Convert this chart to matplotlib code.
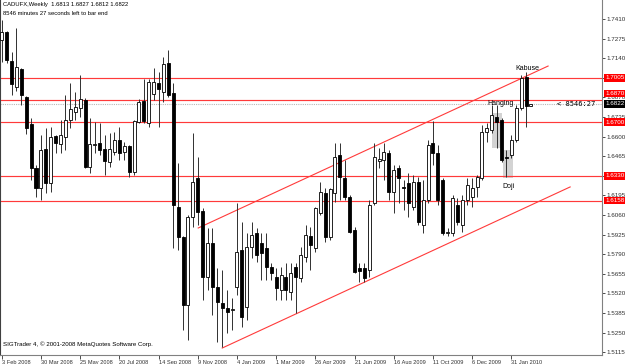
import matplotlib
matplotlib.use("Agg")
import matplotlib.pyplot as plt
from matplotlib.patches import Rectangle
from matplotlib.transforms import blended_transform_factory

plt.rcParams['font.family'] = ['Liberation Sans', 'DejaVu Sans']

# weekly OHLC, first bar = week of 3 Feb 2008
opens = [1.7265, 1.7321, 1.7121, 1.6942, 1.7066, 1.6873, 1.6687, 1.6383, 1.6246, 1.6514,
         1.6280, 1.6604, 1.6549, 1.6597, 1.6714, 1.6769, 1.6797, 1.6852, 1.6390, 1.6542,
         1.6556, 1.6514, 1.6425, 1.6494, 1.6576, 1.6494, 1.6535, 1.6356, 1.6700, 1.6845,
         1.6694, 1.6893, 1.6969, 1.6907, 1.7107, 1.6900, 1.6115, 1.5908, 1.5440, 1.6046,
         1.6315, 1.6087, 1.5632, 1.5867, 1.5564, 1.5453, 1.5419, 1.5405, 1.5564, 1.5818,
         1.5426, 1.5839, 1.5936, 1.5867, 1.5832, 1.5701, 1.5632, 1.5543, 1.5632, 1.5529,
         1.5701, 1.5626, 1.5770, 1.5915, 1.5832, 1.6073, 1.6211, 1.5908, 1.6211, 1.6473,
         1.6315, 1.6184, 1.5956, 1.5694, 1.5694, 1.5681, 1.6142, 1.6432, 1.6439, 1.6487,
         1.6218, 1.6383, 1.6253, 1.6280, 1.6115, 1.6287, 1.5991, 1.6163, 1.6556, 1.6487,
         1.6301, 1.5936, 1.5936, 1.6129, 1.5991, 1.6163, 1.6184, 1.6253, 1.6315, 1.6632,
         1.6645, 1.6735, 1.6714, 1.6459, 1.6473, 1.6576, 1.6797, 1.7010, 1.6813]
highs = [1.7403, 1.7327, 1.7183, 1.7348, 1.7072, 1.6880, 1.6728, 1.6404, 1.6611, 1.6659,
         1.6666, 1.6611, 1.6714, 1.6886, 1.6969, 1.6907, 1.7024, 1.6866, 1.6728, 1.6700,
         1.6694, 1.6611, 1.6625, 1.6632, 1.6666, 1.6563, 1.6542, 1.6714, 1.6859, 1.6997,
         1.6997, 1.7072, 1.7045, 1.7148, 1.7196, 1.6969, 1.6418, 1.5915, 1.6060, 1.6625,
         1.6459, 1.6108, 1.5970, 1.5970, 1.5694, 1.5681, 1.5543, 1.5488, 1.6142, 1.6011,
         1.5936, 1.6011, 1.5970, 1.5936, 1.5936, 1.5729, 1.5694, 1.5701, 1.5729, 1.5729,
         1.5729, 1.5839, 1.5991, 1.5977, 1.6115, 1.6287, 1.6246, 1.6246, 1.6556, 1.6556,
         1.6439, 1.6197, 1.5977, 1.5729, 1.5729, 1.6163, 1.6556, 1.6521, 1.6556, 1.6507,
         1.6404, 1.6404, 1.6301, 1.6349, 1.6335, 1.6321, 1.6301, 1.6576, 1.6707, 1.6542,
         1.6315, 1.5970, 1.6197, 1.6177, 1.6197, 1.6315, 1.6315, 1.6335, 1.6680, 1.6694,
         1.6818, 1.6818, 1.6728, 1.6507, 1.6611, 1.6818, 1.7024, 1.7045, 1.6827]
lows = [1.7114, 1.7107, 1.6886, 1.6914, 1.6818, 1.6618, 1.6301, 1.6184, 1.6163, 1.6211,
        1.6218, 1.6487, 1.6487, 1.6507, 1.6659, 1.6714, 1.6735, 1.6383, 1.6349, 1.6487,
        1.6473, 1.6335, 1.6390, 1.6473, 1.6439, 1.6439, 1.6321, 1.6335, 1.6694, 1.6694,
        1.6666, 1.6852, 1.6666, 1.6838, 1.6873, 1.5832, 1.5818, 1.5267, 1.5198, 1.5977,
        1.5991, 1.5474, 1.5543, 1.5371, 1.5185, 1.5150, 1.5247, 1.5267, 1.5508, 1.5288,
        1.5336, 1.5763, 1.5736, 1.5612, 1.5612, 1.5612, 1.5474, 1.5474, 1.5474, 1.5474,
        1.5384, 1.5598, 1.5736, 1.5681, 1.5805, 1.6060, 1.5874, 1.5887, 1.6149, 1.6163,
        1.6163, 1.5936, 1.5660, 1.5598, 1.5598, 1.5632, 1.6129, 1.6383, 1.6301, 1.6163,
        1.6073, 1.6142, 1.6094, 1.6046, 1.6094, 1.5991, 1.5936, 1.6142, 1.6404, 1.6129,
        1.5922, 1.5915, 1.5915, 1.5991, 1.5943, 1.6129, 1.6115, 1.6184, 1.6301, 1.6563,
        1.6625, 1.6521, 1.6425, 1.6321, 1.6452, 1.6563, 1.6783, 1.6666, 1.6812]
closes = [1.7321, 1.7128, 1.6962, 1.7079, 1.6886, 1.6659, 1.6383, 1.6246, 1.6507, 1.6280,
          1.6597, 1.6556, 1.6611, 1.6714, 1.6790, 1.6804, 1.6859, 1.6390, 1.6549, 1.6549,
          1.6507, 1.6432, 1.6514, 1.6576, 1.6487, 1.6535, 1.6356, 1.6707, 1.6838, 1.6707,
          1.6976, 1.6976, 1.6928, 1.7100, 1.6886, 1.6129, 1.5908, 1.5440, 1.6046, 1.6287,
          1.6080, 1.5632, 1.5867, 1.5564, 1.5460, 1.5419, 1.5391, 1.5412, 1.5805, 1.5357,
          1.5839, 1.5922, 1.5784, 1.5798, 1.5701, 1.5660, 1.5557, 1.5646, 1.5543, 1.5660,
          1.5632, 1.5784, 1.5922, 1.5853, 1.6108, 1.6218, 1.5908, 1.6239, 1.6459, 1.6321,
          1.6184, 1.5943, 1.5667, 1.5674, 1.5626, 1.6129, 1.6459, 1.6445, 1.6494, 1.6218,
          1.6370, 1.6315, 1.6246, 1.6142, 1.6287, 1.6011, 1.6163, 1.6542, 1.6487, 1.6163,
          1.5936, 1.5943, 1.6177, 1.6011, 1.6163, 1.6266, 1.6246, 1.6321, 1.6632, 1.6659,
          1.6749, 1.6700, 1.6439, 1.6452, 1.6576, 1.6797, 1.7004, 1.6813, 1.6822]

date_ticks = [0, 8, 16, 24, 32, 40, 48, 56, 64, 72, 80, 88, 96, 104]
date_labels = ['3 Feb 2008', '30 Mar 2008', '25 May 2008', '20 Jul 2008', '14 Sep 2008',
               '9 Nov 2008', '4 Jan 2009', '1 Mar 2009', '26 Apr 2009', '21 Jun 2009',
               '16 Aug 2009', '11 Oct 2009', '6 Dec 2009', '31 Jan 2010']
price_ticks = [1.7410, 1.7275, 1.7140, 1.7005, 1.6870, 1.6735, 1.6600, 1.6465, 1.6330,
               1.6195, 1.6060, 1.5925, 1.5790, 1.5655, 1.5520, 1.5385, 1.5250, 1.5115]

levels = [1.7005, 1.6855, 1.6700, 1.6330, 1.6158]
level_labels = ['1.7005', '1.6870', '1.6700', '1.6330', '1.6158']
level_label_pos = [1.7005, 1.6897, 1.6700, 1.6330, 1.6158]
bid = 1.6822

# channel lines (bar index, price)
upper_line = ([40.1, 111.5], [1.5970, 1.7086])
lower_line = ([45.0, 116.0], [1.5143, 1.6253])

# pattern boxes (bar from, bar to, low, high)
boxes = [(100.1, 102.0, 1.6521, 1.6762), (102.3, 104.3, 1.6315, 1.6507)]
notes = [(107.2, 1.7072, 'Kabuse'), (101.9, 1.6831, 'Hanging'), (103.4, 1.6253, 'Doji')]

fig = plt.figure(figsize=(6.25, 3.64), dpi=100)
ax = fig.add_axes([0.0, 9 / 364, 602 / 625, 355 / 364])
ax.set_xlim(-0.35, 122.5)
ax.set_ylim(1.5095, 1.7541)

for (x0, x1, lo, hi) in boxes:
    ax.add_patch(Rectangle((x0, lo), x1 - x0, hi - lo, facecolor='#d3d3d3',
                           edgecolor='none', zorder=1))

for lv in levels:
    ax.axhline(lv, color='#ff3a3a', lw=0.85, zorder=2)
ax.axhline(bid, color='#b8b8b8', lw=0.8, ls=(0, (1, 1)), zorder=2)

ax.plot(*upper_line, color='#ff3a3a', lw=0.8, zorder=2)
ax.plot(*lower_line, color='#ff3a3a', lw=0.8, zorder=2)

xs = list(range(len(opens)))
ax.vlines(xs, lows, highs, color='#303030', lw=0.7, zorder=3)
for i in xs:
    o, c = opens[i], closes[i]
    bottom = min(o, c)
    h = max(abs(c - o), 0.0004)
    face = 'white' if c >= o else 'black'
    ax.bar(i, h, bottom=bottom, width=0.62, color=face, edgecolor='black',
           linewidth=0.6, zorder=4)

for (bx, by, t) in notes:
    ax.text(bx, by, t, fontsize=5, ha='center', va='center', zorder=6)

ax.text(113.4, bid, '< 8546:27', fontsize=5, family='DejaVu Sans Mono',
        va='center', ha='left', zorder=6)

ax.text(0.005, 0.995, 'CADUFX,Weekly  1.6813 1.6827 1.6812 1.6822', transform=ax.transAxes,
        fontsize=4.2, va='top', ha='left')
ax.text(0.005, 0.968, '8546 minutes 27 seconds left to bar end', transform=ax.transAxes,
        fontsize=4.2, va='top', ha='left')
ax.text(0.005, 0.022, 'SIGTrader 4, \u00a9 2001-2008 MetaQuotes Software Corp.',
        transform=ax.transAxes, fontsize=4.4, va='bottom', ha='left')

# price axis on the right
ax.yaxis.tick_right()
ax.set_yticks(price_ticks)
ax.set_yticklabels([f'{p:.4f}' for p in price_ticks])
ax.tick_params(axis='y', length=2, width=0.6, pad=1, labelsize=4.5, colors='#303030')

trans = blended_transform_factory(ax.transAxes, ax.transData)
for lab, pos in zip(level_labels, level_label_pos):
    ax.text(1.0055, pos, lab, transform=trans, fontsize=4.5, color='white', va='center',
            ha='left', clip_on=False, zorder=10,
            bbox=dict(boxstyle='square,pad=0.2', fc='#ff0000', ec='none'))
ax.text(1.0055, bid + 0.0003, '1.6822', transform=trans, fontsize=4.5, color='white',
        va='center', ha='left', clip_on=False, zorder=11,
        bbox=dict(boxstyle='square,pad=0.2', fc='black', ec='none'))

ax.set_xticks(date_ticks)
ax.set_xticklabels(date_labels)
for lab in ax.get_xticklabels():
    lab.set_horizontalalignment('left')
ax.tick_params(axis='x', length=3, width=0.6, pad=0.5, labelsize=4.1, colors='#303030')

ax.spines['top'].set_visible(False)
ax.spines['left'].set_color('#404040')
ax.spines['right'].set_color('#808080')
ax.spines['bottom'].set_color('#808080')

fig.savefig('out.png', dpi=100)
